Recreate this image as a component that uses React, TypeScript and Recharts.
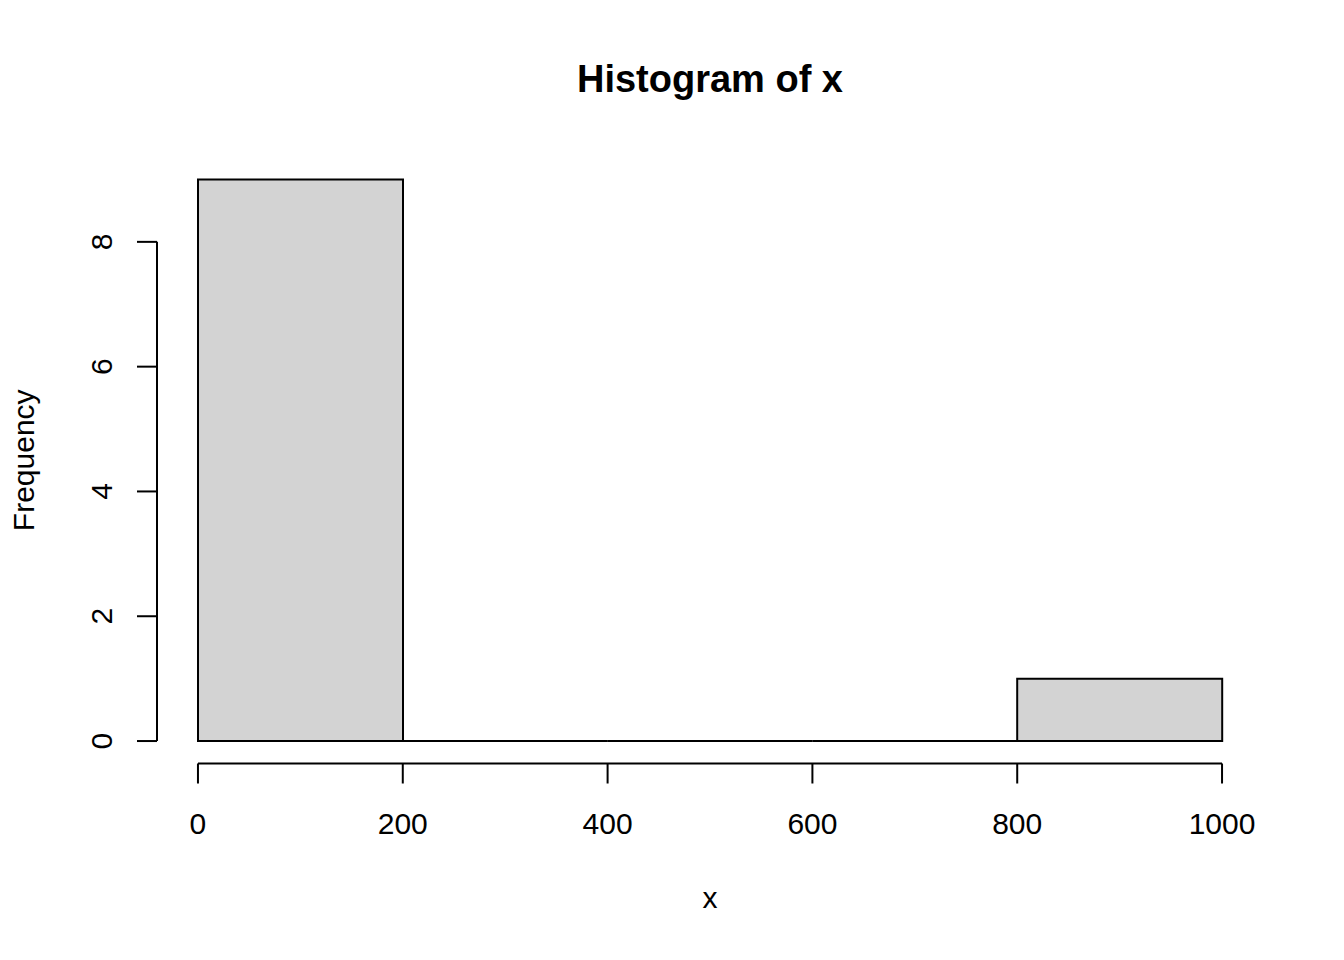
import { ComposedChart, Bar, XAxis, YAxis, ReferenceLine } from 'recharts';

// histogram bins of x and their frequencies
const binLabels = ['0-200', '200-400', '400-600', '600-800', '800-1000'];
const binStarts = [0, 200, 400, 600, 800];
const counts = [9, 0, 0, 0, 1];
const xTicks = [0, 200, 400, 600, 800, 1000];
const yTicks = [0, 2, 4, 6, 8];

const data = binLabels.map((bin, i) => ({ bin, start: binStarts[i], count: counts[i] }));

const FONT = '"Liberation Sans", Arial, Helvetica, sans-serif';

// path instead of rect so that empty bins still show as a flat line
const HistBar = (props: any) => {
    const { x, y, width, height } = props;
    return (
        <path
            d={`M${x},${y}h${width}v${height}h${-width}Z`}
            fill="#d3d3d3"
            stroke="#000"
            strokeWidth={2}
        />
    );
};

const YTick = ({ x, y, payload }: any) => (
    <text
        x={x}
        y={y}
        transform={`rotate(-90, ${x}, ${y})`}
        textAnchor="middle"
        fontSize={30}
        fontFamily={FONT}
        fill="#000"
    >
        {payload.value}
    </text>
);

const XLabel = ({ viewBox }: any) => (
    <text
        x={viewBox.x + viewBox.width / 2}
        y={viewBox.y + viewBox.height - 52}
        textAnchor="middle"
        fontSize={30}
        fontFamily={FONT}
        fill="#000"
    >
        x
    </text>
);

const YLabel = ({ viewBox }: any) => {
    const cx = 34;
    const cy = viewBox.y + viewBox.height / 2;
    return (
        <text
            x={cx}
            y={cy}
            transform={`rotate(-90, ${cx}, ${cy})`}
            textAnchor="middle"
            fontSize={30}
            fontFamily={FONT}
            fill="#000"
        >
            Frequency
        </text>
    );
};

export default function App() {
    return (
        <div style={{ position: 'absolute', left: 0, top: 0, width: 1344, height: 960, background: '#fff' }}>
            <ComposedChart
                width={1344}
                height={960}
                data={data}
                margin={{ top: 157, right: 81, bottom: 0, left: 0 }}
                barCategoryGap={0}
                barGap={0}
            >
                <XAxis
                    xAxisId="num"
                    dataKey="start"
                    type="number"
                    scale="linear"
                    domain={[-40, 1040]}
                    ticks={xTicks}
                    allowDataOverflow
                    interval={0}
                    axisLine={false}
                    tickSize={20}
                    tickMargin={29}
                    tickLine={{ stroke: '#000', strokeWidth: 2 }}
                    tick={{ fontSize: 30, fill: '#000', fontFamily: FONT }}
                    height={196.5}
                    label={XLabel}
                />
                <XAxis xAxisId="cat" dataKey="bin" type="category" hide height={0} padding={{ left: 41, right: 41 }} />
                <YAxis
                    domain={[-0.36, 9.36]}
                    ticks={yTicks}
                    allowDataOverflow
                    interval={0}
                    width={157}
                    axisLine={false}
                    tickSize={20}
                    tickMargin={25}
                    tickLine={{ stroke: '#000', strokeWidth: 2 }}
                    tick={<YTick />}
                    label={YLabel}
                />
                <Bar xAxisId="cat" dataKey="count" shape={<HistBar />} isAnimationActive={false} />
                <ReferenceLine
                    xAxisId="num"
                    segment={[{ x: 0, y: -0.36 }, { x: 1000, y: -0.36 }]}
                    stroke="#000"
                    strokeWidth={2}
                    ifOverflow="visible"
                />
                <ReferenceLine
                    xAxisId="num"
                    segment={[{ x: -40, y: 0 }, { x: -40, y: 8 }]}
                    stroke="#000"
                    strokeWidth={2}
                    ifOverflow="visible"
                />
                <text x={710} y={92} textAnchor="middle" fontSize={38} fontWeight="bold" fontFamily={FONT} fill="#000">
                    Histogram of x
                </text>
            </ComposedChart>
        </div>
    );
}
